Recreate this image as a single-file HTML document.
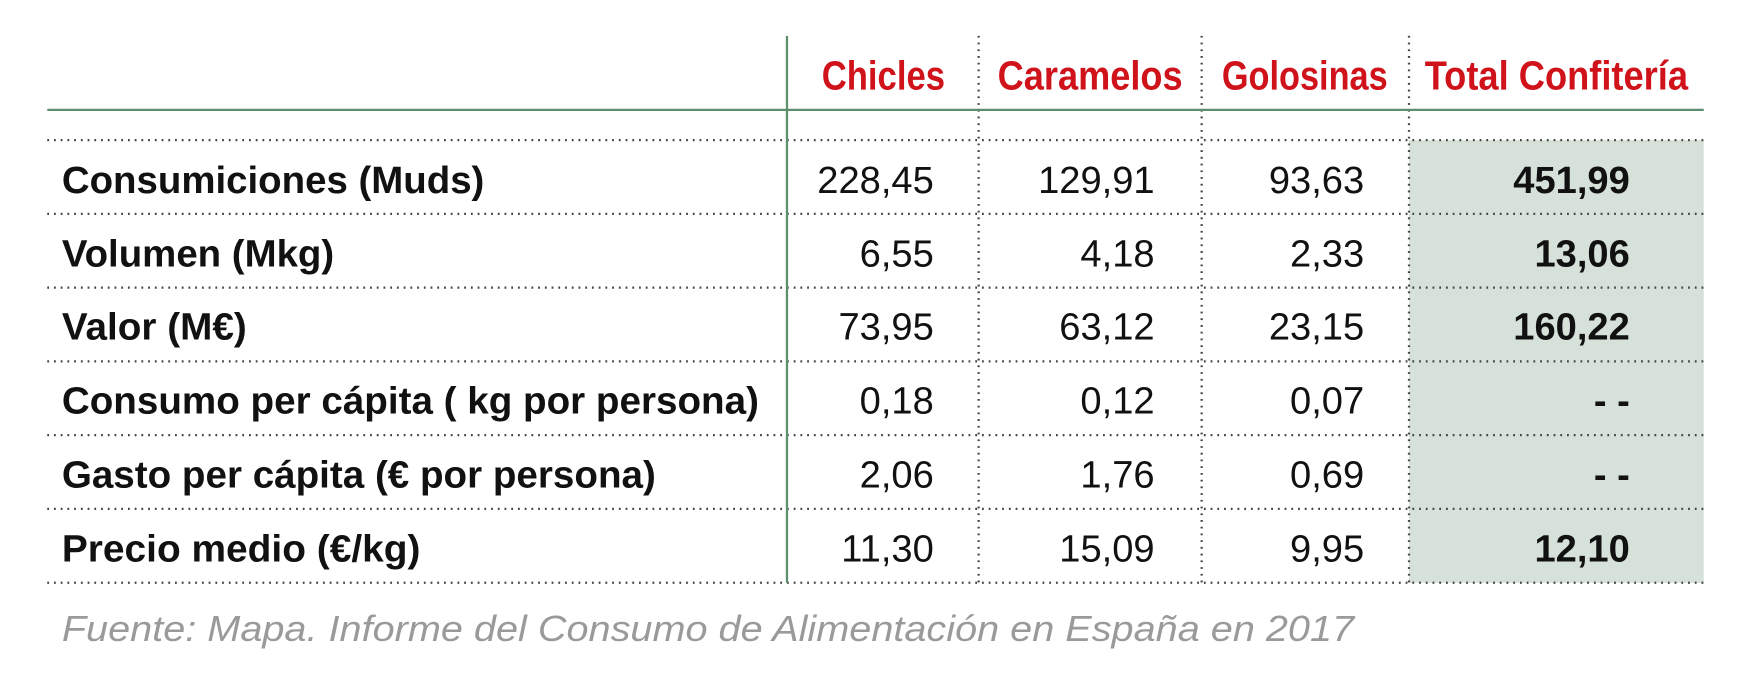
<!DOCTYPE html>
<html><head><meta charset="utf-8"><style>
html,body{margin:0;padding:0;background:#fff;}
svg{display:block;}
text{font-family:"Liberation Sans",sans-serif;}
</style></head><body>
<svg width="1760" height="696" viewBox="0 0 1570 621" xmlns="http://www.w3.org/2000/svg">
<rect x="1257" y="125" width="263" height="395" fill="#d6e1d9"/>
<g stroke="#444" stroke-width="2" stroke-dasharray="1.6 4.4" fill="none">
<line x1="42" y1="125" x2="1520" y2="125"/>
<line x1="42" y1="190.8" x2="1520" y2="190.8"/>
<line x1="42" y1="256.6" x2="1520" y2="256.6"/>
<line x1="42" y1="322.4" x2="1520" y2="322.4"/>
<line x1="42" y1="388.2" x2="1520" y2="388.2"/>
<line x1="42" y1="454" x2="1520" y2="454"/>
<line x1="42" y1="520" x2="1520" y2="520"/>
<line x1="873" y1="32" x2="873" y2="520"/>
<line x1="1072" y1="32" x2="1072" y2="520"/>
<line x1="1257" y1="32" x2="1257" y2="520"/>
</g>
<line x1="42" y1="98" x2="1520" y2="98" stroke="#5b8f6d" stroke-width="2"/>
<line x1="702" y1="32" x2="702" y2="520" stroke="#5b8f6d" stroke-width="2"/>
<g fill="#d0121b" font-weight="bold" font-size="36">
<text x="733" y="80" textLength="110" lengthAdjust="spacingAndGlyphs">Chicles</text>
<text x="890" y="80" textLength="165" lengthAdjust="spacingAndGlyphs">Caramelos</text>
<text x="1090" y="80" textLength="148" lengthAdjust="spacingAndGlyphs">Golosinas</text>
<text x="1271" y="80" textLength="235" lengthAdjust="spacingAndGlyphs">Total Confitería</text>
</g>
<g fill="#111" font-weight="bold" font-size="34">
<text x="55" y="172" textLength="377" lengthAdjust="spacingAndGlyphs">Consumiciones (Muds)</text>
<text x="55" y="238" textLength="243" lengthAdjust="spacingAndGlyphs">Volumen (Mkg)</text>
<text x="55" y="303" textLength="165" lengthAdjust="spacingAndGlyphs">Valor (M€)</text>
<text x="55" y="369" textLength="622" lengthAdjust="spacingAndGlyphs">Consumo per cápita ( kg por persona)</text>
<text x="55" y="435" textLength="530" lengthAdjust="spacingAndGlyphs">Gasto per cápita (€ por persona)</text>
<text x="55" y="501" textLength="320" lengthAdjust="spacingAndGlyphs">Precio medio (€/kg)</text>
</g>
<g fill="#111" font-size="34" text-anchor="end">
<text x="833" y="172">228,45</text><text x="1030" y="172">129,91</text><text x="1217" y="172">93,63</text>
<text x="833" y="238">6,55</text><text x="1030" y="238">4,18</text><text x="1217" y="238">2,33</text>
<text x="833" y="303">73,95</text><text x="1030" y="303">63,12</text><text x="1217" y="303">23,15</text>
<text x="833" y="369">0,18</text><text x="1030" y="369">0,12</text><text x="1217" y="369">0,07</text>
<text x="833" y="435">2,06</text><text x="1030" y="435">1,76</text><text x="1217" y="435">0,69</text>
<text x="833" y="501">11,30</text><text x="1030" y="501">15,09</text><text x="1217" y="501">9,95</text>
</g>
<g fill="#111" font-size="34" font-weight="bold" text-anchor="end">
<text x="1454" y="172">451,99</text>
<text x="1454" y="238">13,06</text>
<text x="1454" y="303">160,22</text>
<text x="1454" y="369">- -</text>
<text x="1454" y="435">- -</text>
<text x="1454" y="501">12,10</text>
</g>
<text x="55" y="572" fill="#9a9a9a" font-style="italic" font-size="32" textLength="1153" lengthAdjust="spacingAndGlyphs">Fuente: Mapa. Informe del Consumo de Alimentación en España en 2017</text>
</svg>
</body></html>
